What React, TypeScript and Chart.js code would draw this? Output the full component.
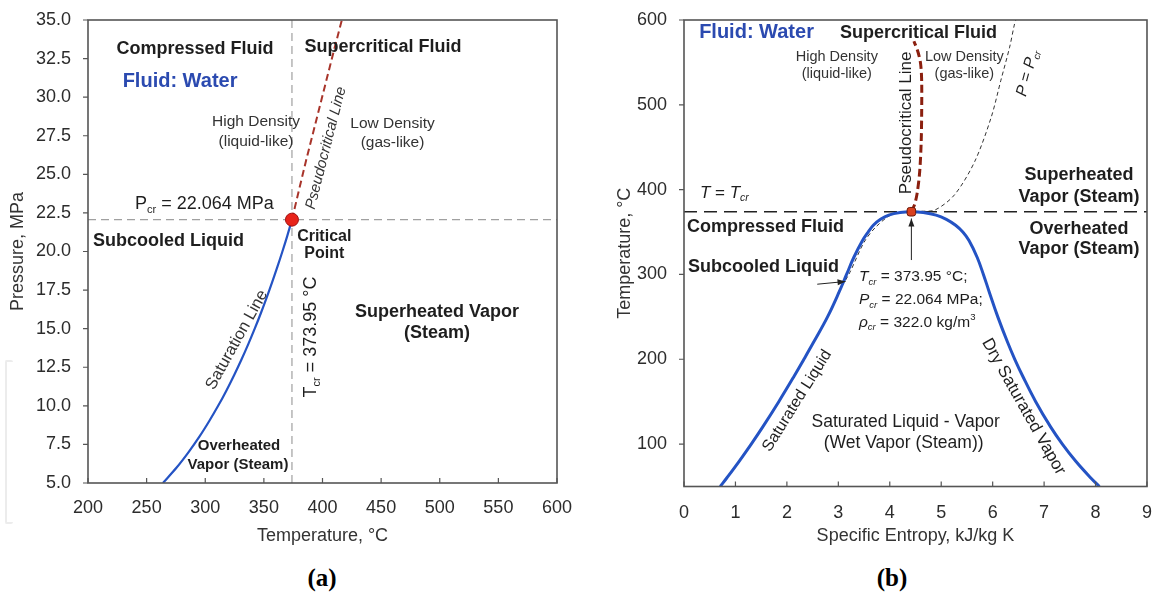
import React, { useEffect, useRef } from 'react';
import { Chart, registerables } from 'chart.js';
Chart.register(...registerables);

// ---------- Data: panel (a) Pressure vs Temperature ----------
const T_CR = 373.95; // °C
const P_CR = 22.064; // MPa
const S_CR = 4.42; // kJ/kg K
const satTempA = [263.9, 275.6, 285.8, 295.0, 303.3, 311.0, 318.1, 324.7, 330.9, 336.7, 342.2, 347.4, 352.3, 357.0, 361.5, 365.8, 369.9, 373.95];
const satPresA = [5, 6, 7, 8, 9, 10, 11, 12, 13, 14, 15, 16, 17, 18, 19, 20, 21, 22.064];
const pseudoTempA = [373.95, 380, 386, 392, 398, 404, 410, 416.5];
const pseudoPresA = [22.064, 24.0, 25.9, 27.7, 29.5, 31.3, 33.1, 35.0];

// ---------- Data: panel (b) Temperature vs Specific Entropy ----------
const domeEntropy = [0.704, 0.831, 1.075, 1.307, 1.528, 1.842, 2.140, 2.331, 2.518, 2.790, 3.020, 3.160, 3.300, 3.470, 3.580, 3.680, 3.820, 3.980, 4.200, 4.420,
  4.650, 4.900, 5.100, 5.280, 5.420, 5.540, 5.700, 5.820, 5.930, 6.100, 6.290, 6.430, 6.585, 6.837, 7.129, 7.355, 7.612, 7.908, 8.075];
const domeTemp = [50, 60, 80, 100, 120, 150, 180, 200, 220, 250, 280, 300, 320, 340, 350, 358, 365, 370, 373, 373.95,
  373, 370, 365, 358, 350, 340, 320, 300, 280, 250, 220, 200, 180, 150, 120, 100, 80, 60, 50];
const pseudoEntropyB = [4.42, 4.48, 4.53, 4.58, 4.61, 4.62, 4.62, 4.60, 4.55, 4.47];
const pseudoTempB = [373.95, 382, 395, 420, 455, 490, 528, 548, 562, 575];
const isobarEntropy = [3.00, 3.22, 3.50, 3.73, 4.05, 4.42, 4.60, 4.88, 5.26, 5.65, 5.97, 6.16, 6.33, 6.42, 6.45];
const isobarTemp = [279, 302, 338, 356, 371, 373.95, 374.5, 376, 394, 433, 485, 529, 568, 594, 600];
const yTicksB = [100, 200, 300, 400, 500, 600];

const FAM = '"Liberation Sans", Arial, Helvetica, sans-serif';
const BLUE_LINE = '#2453c4';
const BLUE_TXT = '#2b4ab0';
const DARK = '#1e1e1e';
const GREY_TXT = '#333333';

type Seg = { t: string; sub?: boolean; sup?: boolean; it?: boolean };
type Lbl = { segs: Seg[] | string; x: number; y: number; size: number; bold?: boolean; it?: boolean; color?: string; align?: 'left' | 'center'; angle?: number };
type Arrow = { x1: number; y1: number; x2: number; y2: number };

const pts = (xs: number[], ys: number[]) => xs.map((x, i) => ({ x, y: ys[i] }));
const fontOf = (size: number, bold?: boolean, it?: boolean) => `${it ? 'italic ' : ''}${bold ? 'bold ' : ''}${size}px ${FAM}`;

function drawLabel(ctx: CanvasRenderingContext2D, chart: any, l: Lbl) {
  const px = chart.scales.x.getPixelForValue(l.x);
  const py = chart.scales.y.getPixelForValue(l.y);
  const segs: Seg[] = typeof l.segs === 'string' ? [{ t: l.segs }] : l.segs;
  ctx.save();
  ctx.translate(px, py);
  ctx.rotate(((l.angle || 0) * Math.PI) / 180);
  ctx.fillStyle = l.color || DARK;
  ctx.textBaseline = 'middle';
  ctx.textAlign = 'left';
  const parts = segs.map((s) => {
    const small = s.sub || s.sup;
    const f = fontOf(small ? l.size * 0.62 : l.size, l.bold, l.it || s.it);
    ctx.font = f;
    return { s, f, w: ctx.measureText(s.t).width, dy: s.sub ? l.size * 0.32 : s.sup ? -l.size * 0.35 : 0 };
  });
  const total = parts.reduce((a, p) => a + p.w, 0);
  let cx = l.align === 'left' ? 0 : -total / 2;
  for (const p of parts) {
    ctx.font = p.f;
    ctx.fillText(p.s.t, cx, p.dy);
    cx += p.w;
  }
  ctx.restore();
}

function drawArrow(ctx: CanvasRenderingContext2D, chart: any, a: Arrow) {
  const sx = chart.scales.x, sy = chart.scales.y;
  const x1 = sx.getPixelForValue(a.x1), y1 = sy.getPixelForValue(a.y1);
  const x2 = sx.getPixelForValue(a.x2), y2 = sy.getPixelForValue(a.y2);
  const ang = Math.atan2(y2 - y1, x2 - x1);
  ctx.save();
  ctx.strokeStyle = '#222';
  ctx.fillStyle = '#222';
  ctx.lineWidth = 1;
  ctx.beginPath();
  ctx.moveTo(x1, y1);
  ctx.lineTo(x2, y2);
  ctx.stroke();
  ctx.beginPath();
  ctx.moveTo(x2, y2);
  ctx.lineTo(x2 - 8 * Math.cos(ang) + 3 * Math.sin(ang), y2 - 8 * Math.sin(ang) - 3 * Math.cos(ang));
  ctx.lineTo(x2 - 8 * Math.cos(ang) - 3 * Math.sin(ang), y2 - 8 * Math.sin(ang) + 3 * Math.cos(ang));
  ctx.closePath();
  ctx.fill();
  ctx.restore();
}

const sub = (t: string, it = false): Seg => ({ t, sub: true, it });

const labelsA: Lbl[] = [
  { segs: 'Compressed Fluid', x: 291.3, y: 33.1, size: 18, bold: true },
  { segs: 'Fluid: Water', x: 278.5, y: 31.0, size: 20, bold: true, color: BLUE_TXT },
  { segs: 'High Density', x: 343.3, y: 28.39, size: 15.5, color: GREY_TXT },
  { segs: '(liquid-like)', x: 343.3, y: 27.1, size: 15.5, color: GREY_TXT },
  { segs: 'Supercritical Fluid', x: 451.6, y: 33.25, size: 18, bold: true },
  { segs: 'Low Density', x: 459.7, y: 28.26, size: 15.5, color: GREY_TXT },
  { segs: '(gas-like)', x: 459.7, y: 27.03, size: 15.5, color: GREY_TXT },
  { segs: 'Pseudocritical Line', x: 403, y: 26.7, size: 15, it: true, angle: -75.6, color: GREY_TXT },
  { segs: [{ t: 'P' }, sub('cr'), { t: ' = 22.064 MPa' }], x: 240, y: 23.08, size: 18, align: 'left' },
  { segs: 'Subcooled Liquid', x: 204.3, y: 20.68, size: 18, bold: true, align: 'left' },
  { segs: 'Critical', x: 401.5, y: 20.94, size: 16, bold: true },
  { segs: 'Point', x: 401.5, y: 19.84, size: 16, bold: true },
  { segs: [{ t: 'T' }, sub('cr'), { t: ' = 373.95 °C' }], x: 390.2, y: 14.46, size: 18, angle: -90 },
  { segs: 'Superheated Vapor', x: 497.7, y: 16.08, size: 18, bold: true },
  { segs: '(Steam)', x: 497.7, y: 14.72, size: 18, bold: true },
  { segs: 'Saturation Line', x: 327, y: 14.27, size: 16.5, angle: -61, color: GREY_TXT },
  { segs: 'Overheated', x: 328.8, y: 7.4, size: 15, bold: true },
  { segs: 'Vapor (Steam)', x: 327.9, y: 6.17, size: 15, bold: true },
];

const labelsB: Lbl[] = [
  { segs: 'Fluid: Water', x: 1.41, y: 584.7, size: 20, bold: true, color: BLUE_TXT },
  { segs: 'Supercritical Fluid', x: 4.56, y: 584.7, size: 18, bold: true },
  { segs: 'High Density', x: 2.97, y: 556.4, size: 14.5, color: GREY_TXT },
  { segs: '(liquid-like)', x: 2.97, y: 536.4, size: 14.5, color: GREY_TXT },
  { segs: 'Low Density', x: 5.45, y: 556.4, size: 14.5, color: GREY_TXT },
  { segs: '(gas-like)', x: 5.45, y: 536.4, size: 14.5, color: GREY_TXT },
  { segs: 'Pseudocritical Line', x: 4.33, y: 478.6, size: 17, angle: -90 },
  { segs: [{ t: 'P', it: true }, { t: ' = ' }, { t: 'P', it: true }, sub('cr', true)], x: 6.68, y: 537.5, size: 16, angle: -75 },
  { segs: 'Superheated', x: 7.68, y: 417.3, size: 18, bold: true },
  { segs: 'Vapor (Steam)', x: 7.68, y: 391.4, size: 18, bold: true },
  { segs: 'Overheated', x: 7.68, y: 353.7, size: 18, bold: true },
  { segs: 'Vapor (Steam)', x: 7.68, y: 330, size: 18, bold: true },
  { segs: [{ t: 'T', it: true }, { t: ' = ' }, { t: 'T', it: true }, sub('cr', true)], x: 0.31, y: 396, size: 17, align: 'left' },
  { segs: 'Compressed Fluid', x: 0.06, y: 356, size: 18, bold: true, align: 'left' },
  { segs: 'Subcooled Liquid', x: 0.08, y: 308.9, size: 18, bold: true, align: 'left' },
  { segs: [{ t: 'T', it: true }, sub('cr', true), { t: ' = 373.95 °C;' }], x: 3.4, y: 297, size: 15.5, align: 'left' },
  { segs: [{ t: 'P', it: true }, sub('cr', true), { t: ' = 22.064 MPa;' }], x: 3.4, y: 270, size: 15.5, align: 'left' },
  { segs: [{ t: 'ρ', it: true }, sub('cr', true), { t: ' = 322.0 kg/m' }, { t: '3', sup: true }], x: 3.4, y: 243, size: 15.5, align: 'left' },
  { segs: 'Saturated Liquid', x: 2.2, y: 151, size: 16, angle: -58 },
  { segs: 'Saturated Liquid - Vapor', x: 4.31, y: 126.2, size: 17.5 },
  { segs: '(Wet Vapor (Steam))', x: 4.27, y: 101.5, size: 17.5 },
  { segs: 'Dry Saturated Vapor', x: 6.6, y: 144, size: 17, angle: 60.6 },
];

const arrowsB: Arrow[] = [
  { x1: S_CR, y1: 317, x2: S_CR, y2: 366 },
  { x1: 2.59, y1: 288.5, x2: 3.14, y2: 291.7 },
];

const overlay = (labels: Lbl[], arrows: Arrow[]) => ({
  id: 'overlay',
  afterDatasetsDraw(chart: any) {
    const ctx = chart.ctx as CanvasRenderingContext2D;
    labels.forEach((l) => drawLabel(ctx, chart, l));
    arrows.forEach((a) => drawArrow(ctx, chart, a));
  },
});

const frame = {
  id: 'frame',
  afterDraw(chart: any) {
    const { ctx, chartArea: a, scales } = chart;
    ctx.save();
    ctx.strokeStyle = '#555';
    ctx.lineWidth = 1.6;
    ctx.strokeRect(a.left, a.top, a.right - a.left, a.bottom - a.top);
    ctx.lineWidth = 1.2;
    ctx.beginPath();
    scales.y.ticks.forEach((t: any) => {
      const y = scales.y.getPixelForValue(t.value);
      ctx.moveTo(a.left - 5, y);
      ctx.lineTo(a.left, y);
    });
    scales.x.ticks.forEach((t: any) => {
      const x = scales.x.getPixelForValue(t.value);
      ctx.moveTo(x, a.bottom);
      ctx.lineTo(x, a.bottom - 5);
    });
    ctx.stroke();
    ctx.restore();
  },
};

const lineDs = (data: any[], color: string, width: number, dash: number[] = [], tension = 0) => ({
  data,
  showLine: true,
  borderColor: color,
  borderWidth: width,
  borderDash: dash,
  pointRadius: 0,
  pointHoverRadius: 0,
  tension,
  fill: false,
});

const tickFont = { family: FAM, size: 18 };
const titleFont = { family: FAM, size: 18 };
const TICK_COL = '#2c2c2c';

function configA(): any {
  return {
    type: 'scatter',
    data: {
      datasets: [
        { data: [{ x: T_CR, y: P_CR }], pointRadius: 6.5, pointBackgroundColor: '#e8231a', pointBorderColor: '#a01010', pointBorderWidth: 1, showLine: false },
        lineDs(pts(satTempA, satPresA), BLUE_LINE, 2.2, [], 0.3),
        lineDs(pts(pseudoTempA, pseudoPresA), '#a8342a', 2, [7, 4]),
        lineDs([{ x: 200, y: P_CR }, { x: 600, y: P_CR }], '#a0a0a0', 1.2, [8, 5]),
        lineDs([{ x: T_CR, y: 5 }, { x: T_CR, y: 35 }], '#a0a0a0', 1.2, [8, 5]),
      ],
    },
    options: {
      responsive: false,
      animation: false,
      devicePixelRatio: 1,
      events: [],
      layout: { padding: { left: 0, top: 20, right: 43, bottom: 0 } },
      plugins: { legend: { display: false }, tooltip: { enabled: false } },
      scales: {
        x: {
          type: 'linear', min: 200, max: 600,
          ticks: { stepSize: 50, font: tickFont, color: TICK_COL, padding: 6 },
          grid: { display: false }, border: { display: false },
          title: { display: true, text: 'Temperature, °C', font: titleFont, color: GREY_TXT, padding: { top: 0, bottom: 13 } },
          afterFit: (s: any) => { s.height = 77; },
        },
        y: {
          type: 'linear', min: 5, max: 35,
          ticks: { stepSize: 2.5, font: tickFont, color: TICK_COL, padding: 9, callback: (v: any) => Number(v).toFixed(1) },
          grid: { display: false }, border: { display: false },
          title: { display: true, text: 'Pressure, MPa', font: titleFont, color: GREY_TXT, padding: { top: 7, bottom: 0 } },
          afterFit: (s: any) => { s.width = 88; },
        },
      },
    },
    plugins: [overlay(labelsA, []), frame],
  };
}

function configB(): any {
  return {
    type: 'scatter',
    data: {
      datasets: [
        { data: [{ x: S_CR, y: T_CR }], pointStyle: 'rectRounded', pointRadius: 5, pointBackgroundColor: '#d9401f', pointBorderColor: '#6b1a0a', pointBorderWidth: 1, showLine: false },
        lineDs(pts(pseudoEntropyB, pseudoTempB), '#8b1f0e', 3, [8, 4], 0.3),
        lineDs(pts(domeEntropy, domeTemp), BLUE_LINE, 3, [], 0.4),
        lineDs(pts(isobarEntropy, isobarTemp), '#333', 1, [4, 3], 0.3),
        lineDs([{ x: 0, y: T_CR }, { x: 9, y: T_CR }], '#222', 1.5, [13, 7]),
      ],
    },
    options: {
      responsive: false,
      animation: false,
      devicePixelRatio: 1,
      events: [],
      layout: { padding: { left: 0, top: 20, right: 10, bottom: 0 } },
      plugins: { legend: { display: false }, tooltip: { enabled: false } },
      scales: {
        x: {
          type: 'linear', min: 0, max: 9,
          ticks: { stepSize: 1, font: tickFont, color: TICK_COL, padding: 8 },
          grid: { display: false }, border: { display: false },
          title: { display: true, text: 'Specific Entropy, kJ/kg K', font: titleFont, color: GREY_TXT, padding: { top: 0, bottom: 13 } },
          afterFit: (s: any) => { s.height = 73.5; },
        },
        y: {
          type: 'linear', min: 50, max: 600,
          afterBuildTicks: (s: any) => { s.ticks = yTicksB.map((v) => ({ value: v })); },
          ticks: { font: tickFont, color: TICK_COL, padding: 9 },
          grid: { display: false }, border: { display: false },
          title: { display: true, text: 'Temperature, °C', font: titleFont, color: GREY_TXT, padding: { top: 14, bottom: 0 } },
          afterFit: (s: any) => { s.width = 84; },
        },
      },
    },
    plugins: [overlay(labelsB, arrowsB), frame],
  };
}

export default function App() {
  const refA = useRef<HTMLCanvasElement>(null);
  const refB = useRef<HTMLCanvasElement>(null);
  useEffect(() => {
    const ca = new Chart(refA.current as HTMLCanvasElement, configA());
    const cb = new Chart(refB.current as HTMLCanvasElement, configB());
    return () => {
      ca.destroy();
      cb.destroy();
    };
  }, []);
  const capStyle: React.CSSProperties = {
    position: 'absolute', top: 563, width: 100, textAlign: 'center',
    font: 'bold 25px "Liberation Serif", "Times New Roman", serif', lineHeight: '30px', color: '#000',
  };
  return (
    <div style={{ position: 'fixed', left: 0, top: 0, width: 1154, height: 593, background: '#fff', overflow: 'hidden' }}>
      <div style={{ position: 'absolute', left: 5, top: 360, width: 6, height: 160, border: '2px solid #ececec', borderRight: 'none', borderRadius: 2 }} />
      <canvas ref={refA} width={600} height={560} style={{ position: 'absolute', left: 0, top: 0, width: 600, height: 560 }} />
      <canvas ref={refB} width={560} height={560} style={{ position: 'absolute', left: 600, top: 0, width: 560, height: 560 }} />
      <div style={{ ...capStyle, left: 272 }}>(a)</div>
      <div style={{ ...capStyle, left: 842 }}>(b)</div>
    </div>
  );
}
